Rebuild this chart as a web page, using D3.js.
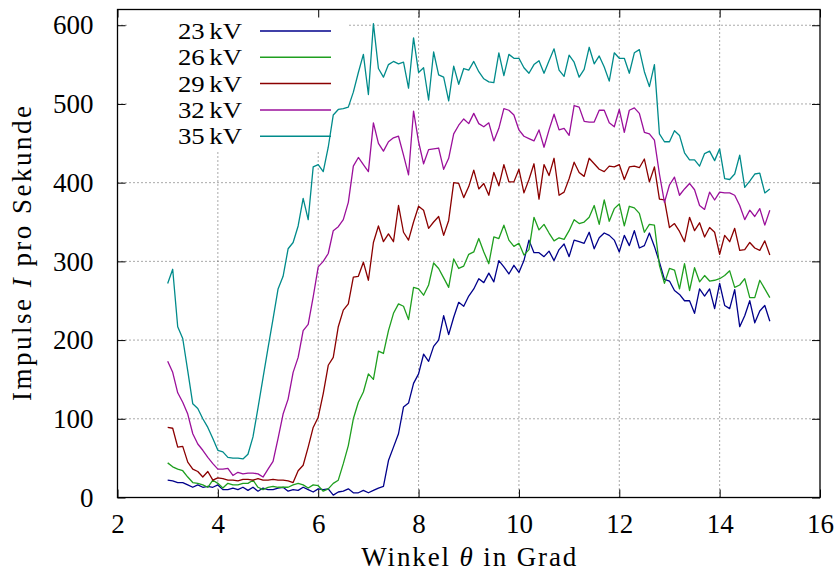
<!DOCTYPE html>
<html>
<head>
<meta charset="utf-8">
<script src="https://cdn.jsdelivr.net/npm/d3@7"></script>
<style>
body { margin: 0; background: #fff; }
text { font-family: "Liberation Serif", "Times New Roman", serif; fill: #000; }
</style>
</head>
<body>
<div class="container"></div>
<script>
const wd = 837
const ht = 576

// Winkel in Grad, gemessen von 3 bis 15 in 0.1er Schritten
const winkel = d3.range(0, 121).map(i => +(3 + i / 10).toFixed(1))

const kv23 = [22,21,19,19,16,13,16,13,14,13, 16,10,10,12,10,13,9,13,8,12,
  10,10,12,13,8,10,9,13,10,7, 11,10,11,3,7,8,11,6,6,9,
  6,9,12,14,47,64,81,115,120,145, 157,182,173,192,200,231,207,229,248,243,
  256,265,278,273,285,274,301,293,284,295, 286,301,327,311,311,306,313,301,315,322,
  306,327,325,323,337,316,330,336,333,327, 312,333,320,339,317,320,336,319,299,277,
  275,263,258,250,250,234,265,256,265,240, 272,244,240,264,217,231,250,222,237,244,224]

const kv26 = [44,39,36,34,26,19,18,16,13,22, 18,12,18,16,16,18,18,22,13,10,
  13,14,13,13,13,16,18,16,12,16, 15,8,11,18,22,43,66,100,121,134,
  157,150,186,183,212,234,246,243,226,267, 265,257,270,298,291,279,267,303,291,294,
  309,312,329,312,297,331,329,346,327,319, 323,308,315,356,340,347,336,326,330,328,
  339,353,348,350,356,371,347,378,351,367, 373,345,370,368,361,337,347,346,295,272,
  291,289,265,297,263,292,274,282,275,276, 278,282,288,267,270,278,254,254,276,265,254]

const kv29 = [89,88,64,65,45,36,33,26,33,22, 25,24,22,22,21,23,23,22,24,22,
  22,23,22,22,21,19,34,41,64,89, 102,132,168,178,217,238,246,280,281,299,
  276,324,345,325,335,325,371,337,327,350, 370,365,342,350,357,333,352,400,399,381,
  395,416,392,399,384,413,396,423,401,401, 417,387,404,424,379,423,409,431,384,388,
  405,426,413,408,431,424,417,414,421,420, 423,404,420,421,419,430,401,420,379,378,
  343,348,338,325,356,339,349,331,343,337, 309,333,325,342,314,315,324,317,314,326,308]

const kv32 = [173,159,133,121,106,81,68,60,51,43, 36,36,37,28,32,30,31,31,30,26,
  36,46,75,106,125,159,178,212,220,255, 293,300,310,339,344,353,375,421,432,423,
  414,476,450,440,452,457,459,435,410,491, 452,424,442,443,444,417,431,462,473,481,
  475,488,475,471,476,453,469,494,492,486, 467,459,456,453,467,445,467,487,467,469,
  460,498,496,478,477,477,492,492,476,471, 493,464,492,495,488,464,462,454,411,375,
  397,407,384,392,399,391,371,366,388,378, 388,387,387,384,371,353,365,357,367,346,365]

const kv35 = [272,290,217,202,161,119,113,100,89,75, 60,58,51,50,50,49,55,77,114,152,
  190,227,265,281,316,324,345,380,353,420, 423,414,445,486,493,494,496,515,540,563,
  512,602,545,534,550,554,551,553,520,584, 540,546,505,566,537,534,504,548,525,545,
  543,554,541,532,528,527,565,536,563,558, 558,546,539,550,555,539,555,570,543,535,
  562,553,534,544,572,551,561,547,529,565, 558,558,539,565,569,541,522,550,462,452,
  452,466,460,438,429,429,421,437,440,428, 443,405,404,411,435,394,402,411,412,387,392]

const spannungen = ["23", "26", "29", "32", "35"]
const farben = ["#00008b", "#1f9f1f", "#8b0000", "#9b109b", "#008b8b"]
const reihen = [kv23, kv26, kv29, kv32, kv35]

const xTicks = [2, 4, 6, 8, 10, 12, 14, 16]
const yTicks = [0, 100, 200, 300, 400, 500, 600]

const links = 117.5, rechts = 820, oben = 9.5, unten = 497.5

const svgC = d3.select(".container")
  .append("svg")
  .attr("width", wd)
  .attr("height", ht)

const xScale = d3.scaleLinear().domain([2, 16]).range([links, rechts])
const yScale = d3.scaleLinear().domain([0, 620]).range([unten, oben])

// gitter
svgC.append("g").selectAll("line")
  .data(xTicks.slice(1, -1))
  .join("line")
  .attr("x1", d => xScale(d)).attr("x2", d => xScale(d))
  .attr("y1", unten).attr("y2", oben)
  .style("stroke", "#555").style("stroke-width", 1).style("stroke-dasharray", "1,3")

svgC.append("g").selectAll("line")
  .data(yTicks.slice(1))
  .join("line")
  .attr("x1", links).attr("x2", rechts)
  .attr("y1", d => yScale(d)).attr("y2", d => yScale(d))
  .style("stroke", "#555").style("stroke-width", 1).style("stroke-dasharray", "1,3")

// legendenfeld deckt das gitter ab
svgC.append("rect")
  .attr("x", 128).attr("y", oben + 1)
  .attr("width", 219).attr("height", 141)
  .attr("fill", "#fff")

// achsen mit innenliegenden ticks auf allen seiten
const tl = 8
const xAxisB = d3.axisBottom(xScale).tickValues(xTicks).tickSizeInner(-tl).tickSizeOuter(0).tickPadding(16)
const xAxisT = d3.axisTop(xScale).tickValues(xTicks).tickSizeInner(-tl).tickSizeOuter(0).tickFormat("")
const yAxisL = d3.axisLeft(yScale).tickValues(yTicks).tickSizeInner(-tl).tickSizeOuter(0).tickPadding(24)
const yAxisR = d3.axisRight(yScale).tickValues(yTicks).tickSizeInner(-tl).tickSizeOuter(0).tickFormat("")

const gB = svgC.append("g").attr("transform", `translate(0,${unten})`).call(xAxisB)
const gT = svgC.append("g").attr("transform", `translate(0,${oben})`).call(xAxisT)
const gL = svgC.append("g").attr("transform", `translate(${links},0)`).call(yAxisL)
svgC.append("g").attr("transform", `translate(${rechts},0)`).call(yAxisR)

svgC.selectAll(".domain").remove()
svgC.selectAll(".tick line").style("stroke", "#000").style("stroke-width", 1)
// der obere tick bei 4 liegt unter der legende
gT.selectAll(".tick").filter(d => d === 4).remove()
svgC.selectAll(".tick text")
  .style("font-family", '"Liberation Serif", serif')
  .style("font-size", "27px")
  .attr("fill", "#000")
gB.selectAll(".tick text").attr("dy", "0.71em")

svgC.append("rect")
  .attr("x", links).attr("y", oben)
  .attr("width", rechts - links).attr("height", unten - oben)
  .attr("fill", "none").style("stroke", "#000").style("stroke-width", 1.3)

// messkurven
const lineObj = d3.line()
  .x((d, i) => xScale(winkel[i]))
  .y(d => yScale(d))

reihen.forEach((werte, k) => {
  svgC.append("path")
    .attr("d", lineObj(werte))
    .attr("fill", "none")
    .style("stroke", farben[k])
    .style("stroke-width", "1.3px")
    .style("stroke-linejoin", "round")
})

// legende
const leg = svgC.append("g")
spannungen.forEach((s, k) => {
  const yy = 31 + k * 26.3
  const t = leg.append("text")
    .attr("x", 242).attr("y", yy)
    .attr("dy", "0.34em")
    .attr("text-anchor", "end")
    .attr("textLength", 64).attr("lengthAdjust", "spacingAndGlyphs")
    .style("font-size", "23.5px")
  t.append("tspan").text(s)
  t.append("tspan").attr("dx", 4).text("kV")
  leg.append("line")
    .attr("x1", 260).attr("x2", 331)
    .attr("y1", yy).attr("y2", yy)
    .style("stroke", farben[k]).style("stroke-width", "1.5px")
})

// achsenbeschriftungen
const xl = svgC.append("text")
  .attr("x", (links + rechts) / 2).attr("y", 566)
  .attr("text-anchor", "middle")
  .attr("textLength", 215).attr("lengthAdjust", "spacing")
  .style("font-size", "27px")
xl.append("tspan").text("Winkel ")
xl.append("tspan").style("font-style", "italic").text("θ")
xl.append("tspan").text(" in Grad")

const yl = svgC.append("text")
  .attr("transform", `translate(31,${(oben + unten) / 2}) rotate(-90)`)
  .attr("text-anchor", "middle")
  .attr("textLength", 295).attr("lengthAdjust", "spacing")
  .style("font-size", "27px")
yl.append("tspan").text("Impulse ")
yl.append("tspan").style("font-style", "italic").text("I")
yl.append("tspan").text(" pro Sekunde")
</script>
</body>
</html>
